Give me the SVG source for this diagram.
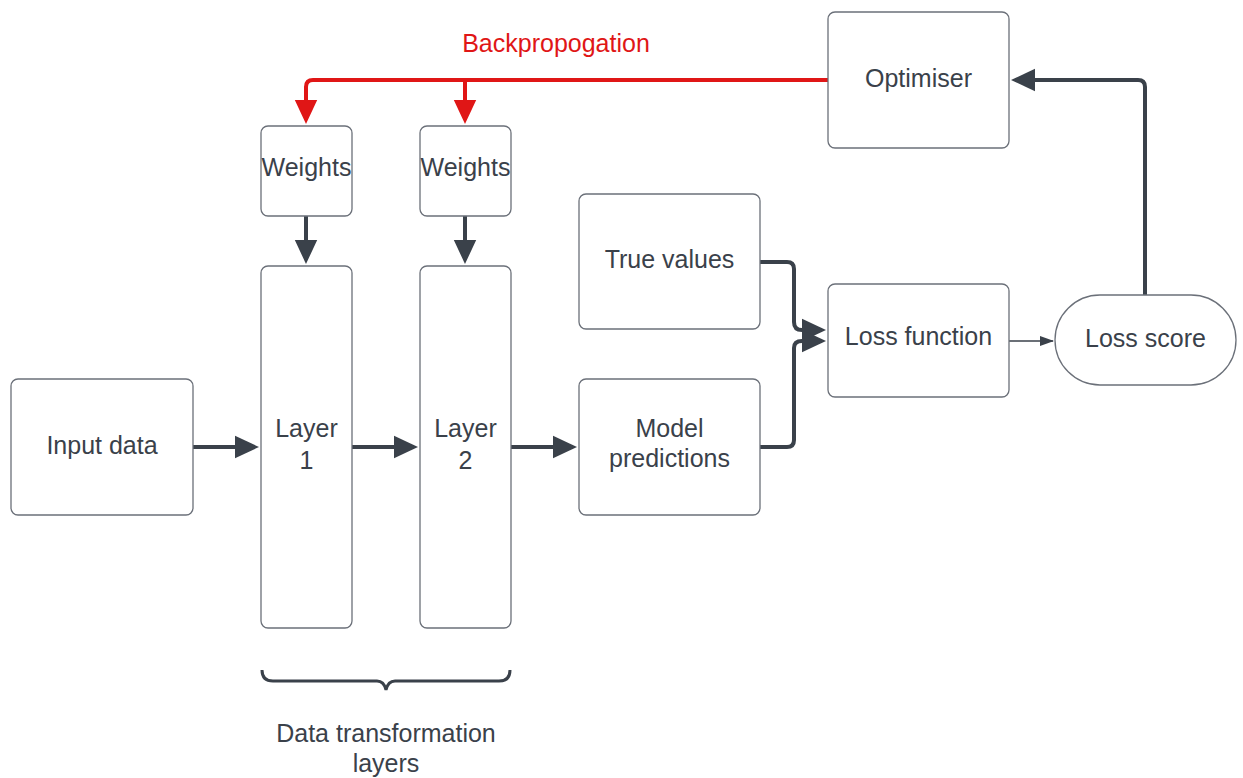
<svg xmlns="http://www.w3.org/2000/svg" width="1243" height="778" viewBox="0 0 1243 778">
<style>
.box{fill:#fff;stroke:#6b7079;stroke-width:1.3}
.t{font-family:"Liberation Sans",Arial,sans-serif;font-size:25px;fill:#3a414a;text-anchor:middle}
.c{fill:none;stroke:#3a414a;stroke-width:4;stroke-linejoin:round}
.r{fill:none;stroke:#e01616;stroke-width:4;stroke-linejoin:round}
</style>
<defs>
<marker id="ah" markerWidth="6" markerHeight="6" refX="5" refY="3" orient="auto" markerUnits="strokeWidth"><path d="M0,0.2 L6,3 L0,5.8 Z" fill="#3a414a"/></marker>
<marker id="ahr" markerWidth="6" markerHeight="6" refX="5" refY="3" orient="auto" markerUnits="strokeWidth"><path d="M0,0.2 L6,3 L0,5.8 Z" fill="#e01616"/></marker>
<marker id="ahs" markerWidth="14" markerHeight="12" refX="13" refY="6" orient="auto" markerUnits="userSpaceOnUse"><path d="M0,1 L14,6 L0,11 Z" fill="#3a414a"/></marker>
</defs>
<rect width="1243" height="778" fill="#fff"/>
<g id="connectors">
<path class="r" d="M828,80 H313 Q306,80 306,87 V120" marker-end="url(#ahr)"/>
<path class="r" d="M465,80 V120" marker-end="url(#ahr)"/>
<path class="c" d="M306,216 V260" marker-end="url(#ah)"/>
<path class="c" d="M465,216 V260" marker-end="url(#ah)"/>
<path class="c" d="M193,447 H255" marker-end="url(#ah)"/>
<path class="c" d="M352,447 H414" marker-end="url(#ah)"/>
<path class="c" d="M511,447 H573" marker-end="url(#ah)"/>
<path class="c" d="M760,262 H787 Q794,262 794,269 V322 Q794,330 802,330 H822" marker-end="url(#ah)"/>
<path class="c" d="M760,447 H787 Q794,447 794,440 V348 Q794,341 802,341 H822" marker-end="url(#ah)"/>
<path d="M1009,341 H1053" fill="none" stroke="#3a414a" stroke-width="1.3" marker-end="url(#ahs)"/>
<path class="c" d="M1145,295 V87 Q1145,80 1138,80 H1015" marker-end="url(#ah)"/>
</g>
<g id="optimiser"><rect class="box" x="828" y="12" width="181" height="136" rx="7"/><text class="t" x="918.5" y="87">Optimiser</text></g>
<g id="weights1"><rect class="box" x="261" y="126" width="91" height="90" rx="7"/><text class="t" x="306.5" y="176">Weights</text></g>
<g id="weights2"><rect class="box" x="420" y="126" width="91" height="90" rx="7"/><text class="t" x="465.5" y="176">Weights</text></g>
<g id="layer1"><rect class="box" x="261" y="266" width="91" height="362" rx="7"/><text class="t" x="306.5" y="437">Layer</text><text class="t" x="306.5" y="469">1</text></g>
<g id="layer2"><rect class="box" x="420" y="266" width="91" height="362" rx="7"/><text class="t" x="465.5" y="437">Layer</text><text class="t" x="465.5" y="469">2</text></g>
<g id="input"><rect class="box" x="11" y="379" width="182" height="136" rx="7"/><text class="t" x="102" y="454">Input data</text></g>
<g id="truevalues"><rect class="box" x="579" y="194" width="181" height="135" rx="7"/><text class="t" x="669.5" y="268">True values</text></g>
<g id="modelpred"><rect class="box" x="579" y="379" width="181" height="136" rx="7"/><text class="t" x="669.5" y="437">Model</text><text class="t" x="669.5" y="467">predictions</text></g>
<g id="lossfunction"><rect class="box" x="828" y="284" width="181" height="113" rx="7"/><text class="t" x="918.5" y="345">Loss function</text></g>
<g id="lossscore"><rect class="box" x="1055" y="295" width="181" height="90" rx="45"/><text class="t" x="1145.5" y="347">Loss score</text></g>
<g id="backprop-label"><text class="t" x="556" y="52" style="fill:#e01616">Backpropogation</text></g>
<g id="brace"><path d="M262,670 Q262,681 273,681 H377 Q384,681 386,690 Q388,681 395,681 H499 Q510,681 510,670" fill="none" stroke="#3a414a" stroke-width="3"/><text class="t" x="386" y="742">Data transformation</text><text class="t" x="386" y="772">layers</text></g>
</svg>
